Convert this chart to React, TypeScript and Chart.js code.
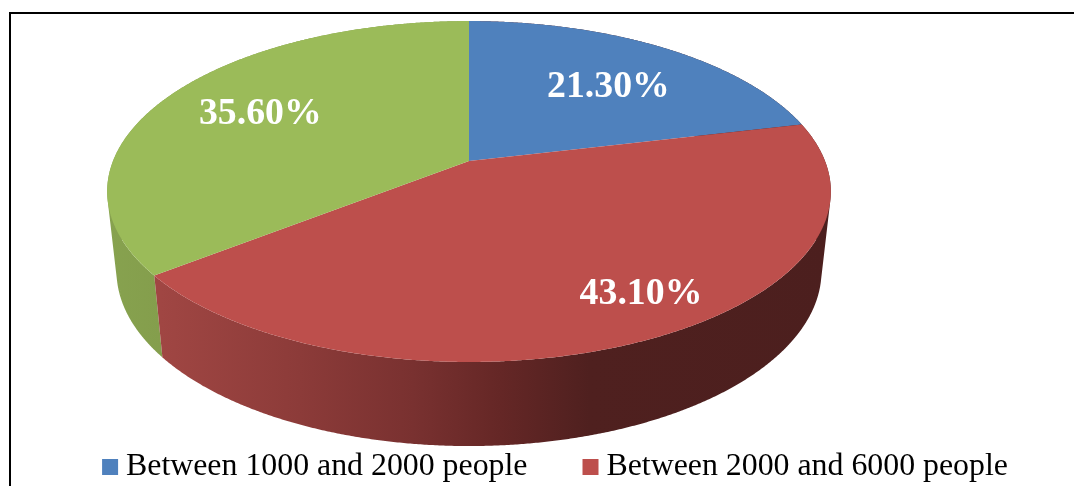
import React, { useEffect, useRef } from "react";
import { Chart, registerables } from "chart.js";

Chart.register(...registerables);

const categories = ["Between 1000 and 2000 people", "Between 2000 and 6000 people", "More than 6000 people"];
const shares = [21.3, 43.1, 35.6];
const topColors = ["#4F81BD", "#BD4F4C", "#9BBB59"];
const hiddenLegendItems = [2];

// Perspective of the pie's top and bottom faces
const TOP_FACE = { cx: 469, cy: 161, a: 356, b: 165, k: -0.179 };
const BOTTOM_FACE = { cx: 469, cy: 239.7, a: 346.8, b: 169.4, k: -0.179 };
// Manual label layout: radial fraction and nudge
const LABEL_LAYOUT = [
  { r: 0.69, dx: 0.5, dy: 8 },
  { r: 0.69, dx: 52, dy: 18 },
  { r: 0.69, dx: 1, dy: 0 },
];

type Face = typeof TOP_FACE;
const project = (f: Face, angle: number, r = 1) => {
  const u = r * Math.cos(angle);
  const v = r * Math.sin(angle);
  const d = 1 + f.k * v;
  return { x: f.cx + (f.a * u) / d, y: f.cy + (f.b * v) / d };
};

const wallFill = (ctx: CanvasRenderingContext2D, i: number) => {
  const g = ctx.createLinearGradient(107, 0, 831, 0);
  const stop = (x: number, c: string) => g.addColorStop((x - 107) / 724, c);
  if (i === 2) {
    stop(107, "#87A24F");
    stop(161, "#849E4C");
  } else {
    stop(161, "#A04643");
    stop(300, "#8C3B39");
    stop(413, "#793130");
    stop(500, "#652726");
    stop(590, "#4F201F");
    stop(831, "#4C1F1E");
  }
  return g;
};

const pie3d = {
  id: "pie3d",
  beforeDraw(chart: any) {
    const { ctx, width, height } = chart;
    ctx.save();
    ctx.fillStyle = "#FFFFFF";
    ctx.fillRect(0, 0, width, height);
    ctx.strokeStyle = "#000000";
    ctx.lineWidth = 2;
    ctx.beginPath();
    ctx.moveTo(10, height);
    ctx.lineTo(10, 13);
    ctx.lineTo(width, 13);
    ctx.stroke();
    ctx.restore();
  },
  beforeDatasetsDraw(chart: any) {
    const { ctx } = chart;
    const arcs = chart.getDatasetMeta(0).data;
    ctx.save();
    // Side walls, from the arcs' own angles
    [0, 2, 1].forEach((i) => {
      const arc = arcs[i];
      const n = Math.ceil((arc.endAngle - arc.startAngle) / 0.005);
      ctx.beginPath();
      for (let s = 0; s < n; s++) {
        const a0 = arc.startAngle + ((arc.endAngle - arc.startAngle) * s) / n;
        const a1 = arc.startAngle + ((arc.endAngle - arc.startAngle) * (s + 1)) / n;
        const p = [project(TOP_FACE, a0), project(TOP_FACE, a1), project(BOTTOM_FACE, a1), project(BOTTOM_FACE, a0)];
        let area = 0;
        p.forEach((q, j) => {
          const w = p[(j + 1) % 4];
          area += q.x * w.y - w.x * q.y;
        });
        const pts = area > 0 ? p : [...p].reverse();
        ctx.moveTo(pts[0].x, pts[0].y);
        pts.slice(1).forEach((q) => ctx.lineTo(q.x, q.y));
        ctx.closePath();
      }
      ctx.fillStyle = wallFill(ctx, i);
      ctx.fill();
    });
    // Top face
    arcs.forEach((arc: any, i: number) => {
      const n = Math.ceil((arc.endAngle - arc.startAngle) / 0.005);
      ctx.beginPath();
      ctx.moveTo(TOP_FACE.cx, TOP_FACE.cy);
      for (let s = 0; s <= n; s++) {
        const q = project(TOP_FACE, arc.startAngle + ((arc.endAngle - arc.startAngle) * s) / n);
        ctx.lineTo(q.x, q.y);
      }
      ctx.closePath();
      ctx.fillStyle = topColors[i];
      ctx.fill();
    });
    ctx.restore();
    return false;
  },
  afterDraw(chart: any) {
    const { ctx } = chart;
    const arcs = chart.getDatasetMeta(0).data;
    ctx.save();
    ctx.font = 'bold 37.8px "Liberation Serif"';
    ctx.fillStyle = "#FFFFFF";
    ctx.textAlign = "center";
    ctx.textBaseline = "middle";
    arcs.forEach((arc: any, i: number) => {
      const l = LABEL_LAYOUT[i];
      const p = project(TOP_FACE, (arc.startAngle + arc.endAngle) / 2, l.r);
      ctx.fillText(`${shares[i].toFixed(2)}%`, p.x + l.dx, p.y + l.dy);
    });
    ctx.restore();
  },
};

export default function App() {
  const ref = useRef<HTMLCanvasElement>(null);
  useEffect(() => {
    const chart = new Chart(ref.current as HTMLCanvasElement, {
      type: "pie",
      data: {
        labels: categories,
        datasets: [{ data: shares, backgroundColor: topColors, borderWidth: 0 }],
      },
      options: {
        animation: false,
        responsive: false,
        devicePixelRatio: 1,
        layout: { padding: { left: 44, bottom: -7 } },
        plugins: {
          tooltip: { enabled: false },
          legend: {
            position: "bottom",
            labels: {
              filter: (item: any) => !hiddenLegendItems.includes(item.index),
              usePointStyle: true,
              pointStyle: "rect",
              boxWidth: 0.01,
              boxHeight: 16,
              padding: 63,
              color: "#000000",
              font: { family: '"Liberation Serif"', size: 31.85 },
            },
          },
        },
      },
      plugins: [pie3d],
    } as any);
    return () => chart.destroy();
  }, []);
  return (
    <div style={{ position: "absolute", left: 0, top: 0, width: 1074, height: 486 }}>
      <canvas ref={ref} width={1074} height={486} style={{ display: "block" }} />
    </div>
  );
}
